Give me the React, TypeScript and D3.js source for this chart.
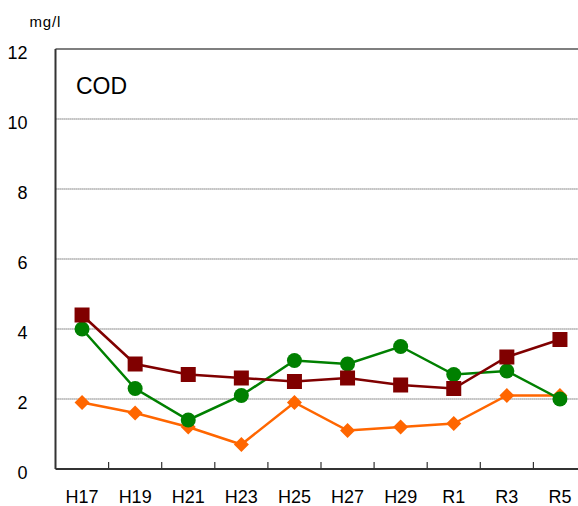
import React, { useEffect, useRef } from "react";
import * as d3 from "d3";

const categories = ["H17", "H19", "H21", "H23", "H25", "H27", "H29", "R1", "R3", "R5"];
const seriesRed = [4.4, 3.0, 2.7, 2.6, 2.5, 2.6, 2.4, 2.3, 3.2, 3.7];
const seriesGreen = [4.0, 2.3, 1.4, 2.1, 3.1, 3.0, 3.5, 2.7, 2.8, 2.0];
const seriesOrange = [1.9, 1.6, 1.2, 0.7, 1.9, 1.1, 1.2, 1.3, 2.1, 2.1];
const yTicks = [0, 2, 4, 6, 8, 10, 12];

const W = 578;
const H = 506;
const M = { left: 55.5, top: 49, plotW: 531, bottom: 469 };

export default function App() {
  const ref = useRef<SVGSVGElement>(null);

  useEffect(() => {
    const svg = d3.select(ref.current);
    svg.selectAll("*").remove();
    const font = "'Liberation Sans', Arial, sans-serif";

    const x = d3.scaleBand<string>().domain(categories).range([M.left, M.left + M.plotW]).padding(0);
    const y = d3.scaleLinear().domain([0, 12]).range([M.bottom, M.top]);

    // gridlines
    svg.append("g")
      .selectAll("line")
      .data(yTicks.filter((t) => t > 0 && t < 12))
      .join("line")
      .attr("x1", M.left)
      .attr("x2", W)
      .attr("y1", (d) => y(d))
      .attr("y2", (d) => y(d))
      .attr("stroke", "#8e8e8e")
      .attr("stroke-width", 1.5)
      .attr("stroke-dasharray", "1.2,0.8");

    // top border
    svg.append("line")
      .attr("x1", M.left).attr("x2", W)
      .attr("y1", y(12)).attr("y2", y(12))
      .attr("stroke", "#555").attr("stroke-width", 1.5);

    // x axis with inward ticks at band boundaries
    const xAxis = svg.append("g");
    xAxis.append("line")
      .attr("x1", M.left).attr("x2", W)
      .attr("y1", M.bottom).attr("y2", M.bottom)
      .attr("stroke", "#333").attr("stroke-width", 2);
    xAxis.selectAll("line.tick")
      .data(categories.slice(1))
      .join("line")
      .attr("class", "tick")
      .attr("x1", (d) => x(d)!)
      .attr("x2", (d) => x(d)!)
      .attr("y1", M.bottom)
      .attr("y2", M.bottom - 7)
      .attr("stroke", "#333").attr("stroke-width", 1.2);
    xAxis.selectAll("text")
      .data(categories)
      .join("text")
      .attr("x", (d) => x(d)! + x.bandwidth() / 2)
      .attr("y", 503)
      .attr("text-anchor", "middle")
      .attr("font-family", font)
      .attr("font-size", 18)
      .attr("fill", "#000")
      .text((d) => d);

    // y axis
    svg.append("line")
      .attr("x1", M.left).attr("x2", M.left)
      .attr("y1", M.top).attr("y2", M.bottom)
      .attr("stroke", "#333").attr("stroke-width", 2);
    svg.append("g")
      .selectAll("text")
      .data(yTicks)
      .join("text")
      .attr("x", 27.5)
      .attr("y", (d) => y(d) + 10)
      .attr("text-anchor", "end")
      .attr("font-family", font)
      .attr("font-size", 18)
      .attr("fill", "#000")
      .text((d) => String(d));

    svg.append("text")
      .attr("x", 29.5).attr("y", 27)
      .attr("font-family", font).attr("font-size", 15)
      .attr("letter-spacing", 0.8)
      .text("mg/l");
    svg.append("text")
      .attr("x", 76).attr("y", 94)
      .attr("font-family", font).attr("font-size", 23)
      .text("COD");

    const cx = (i: number) => x(categories[i])! + x.bandwidth() / 2;
    const line = d3.line<number>().x((_, i) => cx(i)).y((d) => y(d));

    const drawSeries = (vals: number[], color: string, shape: "circle" | "square" | "diamond") => {
      const g = svg.append("g");
      g.append("path")
        .attr("d", line(vals)!)
        .attr("fill", "none")
        .attr("stroke", color)
        .attr("stroke-width", 2.5);
      if (shape === "circle") {
        g.selectAll("circle").data(vals).join("circle")
          .attr("cx", (_, i) => cx(i)).attr("cy", (d) => y(d)).attr("r", 7.5)
          .attr("fill", color);
      } else if (shape === "square") {
        g.selectAll("rect").data(vals).join("rect")
          .attr("x", (_, i) => cx(i) - 7.5).attr("y", (d) => y(d) - 7.5)
          .attr("width", 15).attr("height", 15)
          .attr("fill", color);
      } else {
        g.selectAll("path.m").data(vals).join("path")
          .attr("class", "m")
          .attr("d", (d, i) => {
            const px = cx(i), py = y(d), r = 7.5;
            return `M${px},${py - r}L${px + r},${py}L${px},${py + r}L${px - r},${py}Z`;
          })
          .attr("fill", color);
      }
    };

    drawSeries(seriesOrange, "#ff6600", "diamond");
    drawSeries(seriesGreen, "#008000", "circle");
    drawSeries(seriesRed, "#800000", "square");
  }, []);

  return (
    <svg
      ref={ref}
      width={W}
      height={H}
      style={{ position: "absolute", left: 0, top: 0, background: "#fff" }}
    />
  );
}
